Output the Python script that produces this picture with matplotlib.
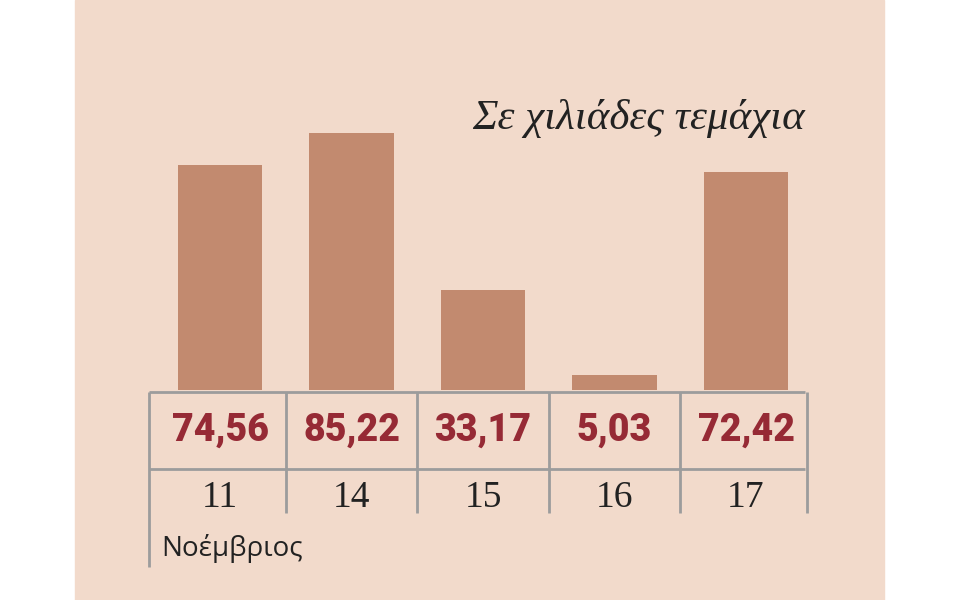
import matplotlib
matplotlib.use("Agg")
import matplotlib.pyplot as plt
from matplotlib.patches import Rectangle

# data: thousands of units per day (November)
days = ["11", "14", "15", "16", "17"]
values = [74.56, 85.22, 33.17, 5.03, 72.42]
value_labels = ["74,56", "85,22", "33,17", "5,03", "72,42"]
month_label = "Νοέμβριος"
unit_label = "Σε χιλιάδες τεμάχια"

panel_col = "#f2dacb"
bar_col = "#c28a6f"
val_col = "#962a35"
line_col = "#9c9c9c"
text_col = "#222222"

fig = plt.figure(figsize=(9.6, 6), dpi=100)
fig.patch.set_facecolor("white")

# axes over the whole figure; x in bar slots, y in values (3.016 px per unit)
ax = fig.add_axes([0, 0, 1, 1])
ax.set_facecolor("none")
ax.set_xlim(-1.673, 5.627)
ax.set_ylim(-69.63, 129.3)
ax.axis("off")

# beige panel behind everything
ax.add_patch(Rectangle((75 / 960, 0), (884 - 75) / 960, 1,
                       transform=ax.transAxes, color=panel_col, zorder=0))

x = list(range(len(days)))
ax.bar(x, values, width=0.64, color=bar_col, zorder=2)

# table lines
left, right = -0.54, 4.45
row1, row2, bottom1, bottom2 = -0.6, -26.3, -40.8, -58.7
ax.hlines([row1, row2], left, right, color=line_col, lw=2, zorder=3)
bounds = [left] + [i + 0.5 for i in x[:-1]] + [4.46]
for i, b in enumerate(bounds):
    ax.vlines(b, row1, bottom2 if i == 0 else bottom1, color=line_col, lw=2, zorder=3)

for xi, lab in zip(x, value_labels):
    ax.text(xi, -13.2, lab, ha="center", va="center", color=val_col,
            fontsize=27, fontweight="heavy", family="Roboto", zorder=4)

for xi, d in zip(x, days):
    ax.text(xi, -35.8, d, ha="center", va="center", color=text_col,
            fontsize=27, family="Liberation Serif", zorder=4)

ax.text(-0.45, -52.6, month_label, ha="left", va="center", color=text_col,
        fontsize=20, family="Open Sans", zorder=4)

ax.text(4.45, 90.0, unit_label, ha="right", va="center", color=text_col,
        fontsize=31, style="italic", family="Liberation Serif", zorder=4)

fig.savefig("out.png", dpi=100)
